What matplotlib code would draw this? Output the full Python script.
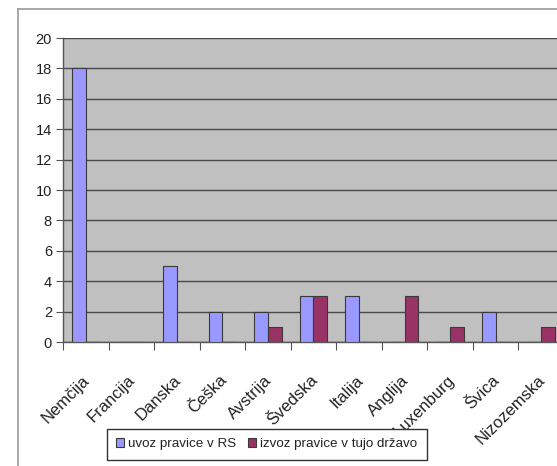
import matplotlib
matplotlib.use("Agg")
import matplotlib.pyplot as plt
from matplotlib.lines import Line2D
import numpy as np

plt.rcParams['font.family'] = ['Liberation Sans', 'DejaVu Sans']

# Countries and counts for the two series
countries = ['Nemčija', 'Francija', 'Danska', 'Češka', 'Avstrija', 'Švedska',
             'Italija', 'Anglija', 'Luxenburg', 'Švica', 'Nizozemska']
uvoz = [18, 0, 5, 2, 2, 3, 3, 0, 0, 2, 0]
izvoz = [0, 0, 0, 0, 1, 3, 0, 3, 1, 0, 1]
series_names = ['uvoz pravice v RS', 'izvoz pravice v tujo državo']

W, H = 557, 466
fig = plt.figure(figsize=(W / 100, H / 100), dpi=100)
fig.patch.set_facecolor('white')

# chart area border (only left and top visible)
fig.add_artist(Line2D([18 / W, 18 / W], [0, 1 - 9 / H], color='#9a9a9a', lw=1.2))
fig.add_artist(Line2D([18 / W, 1], [1 - 9 / H, 1 - 9 / H], color='#9a9a9a', lw=1.2))

ax = fig.add_axes([63 / W, 1 - 342 / H, 501 / W, 304 / H])
ax.set_facecolor('#c0c0c0')

x = np.arange(len(countries))
w = 0.3
ax.bar(x - w / 2, uvoz, w, color='#9999ff', edgecolor='#3a3a3a', lw=0.8,
       label=series_names[0], zorder=3)
ax.bar(x + w / 2, izvoz, w, color='#993366', edgecolor='#3a3a3a', lw=0.8,
       label=series_names[1], zorder=3)

ax.set_xlim(-0.5, len(countries) - 0.5)
ax.set_ylim(0, 20)
ax.set_yticks(range(0, 21, 2))
ax.yaxis.grid(True, color='#4a4a4a', lw=1.0, zorder=1)
ax.set_axisbelow(True)

for side in ['top', 'right']:
    ax.spines[side].set_visible(False)
for side in ['left', 'bottom']:
    ax.spines[side].set_color('#555555')
    ax.spines[side].set_linewidth(1.0)

ax.tick_params(axis='y', length=5, color='#555555', labelsize=10.5,
               labelcolor='#222222', pad=3)
# category tick marks sit between the groups
ax.set_xticks(np.arange(-0.5, len(countries), 1.0))
ax.set_xticklabels([])
ax.tick_params(axis='x', length=6, color='#555555')

for i, name in enumerate(countries):
    ax.text(i - 0.08, -2.0, name, rotation=45, rotation_mode='anchor',
            ha='right', va='top', fontsize=12, color='#222222',
            transform=ax.transData, clip_on=False)

leg = fig.legend(loc='upper left', bbox_to_anchor=(107 / W, 1 - 429 / H),
                 ncol=2, frameon=True, fancybox=False, fontsize=9.6,
                 handlelength=0.6, handleheight=0.6, handletextpad=0.3,
                 columnspacing=0.9, borderpad=0.7, borderaxespad=0,
                 framealpha=1.0)
leg.get_frame().set_edgecolor('#333333')
leg.get_frame().set_linewidth(1.0)
leg.set_zorder(10)
for t in leg.get_texts():
    t.set_color('#222222')

fig.savefig('out.png', dpi=100)
